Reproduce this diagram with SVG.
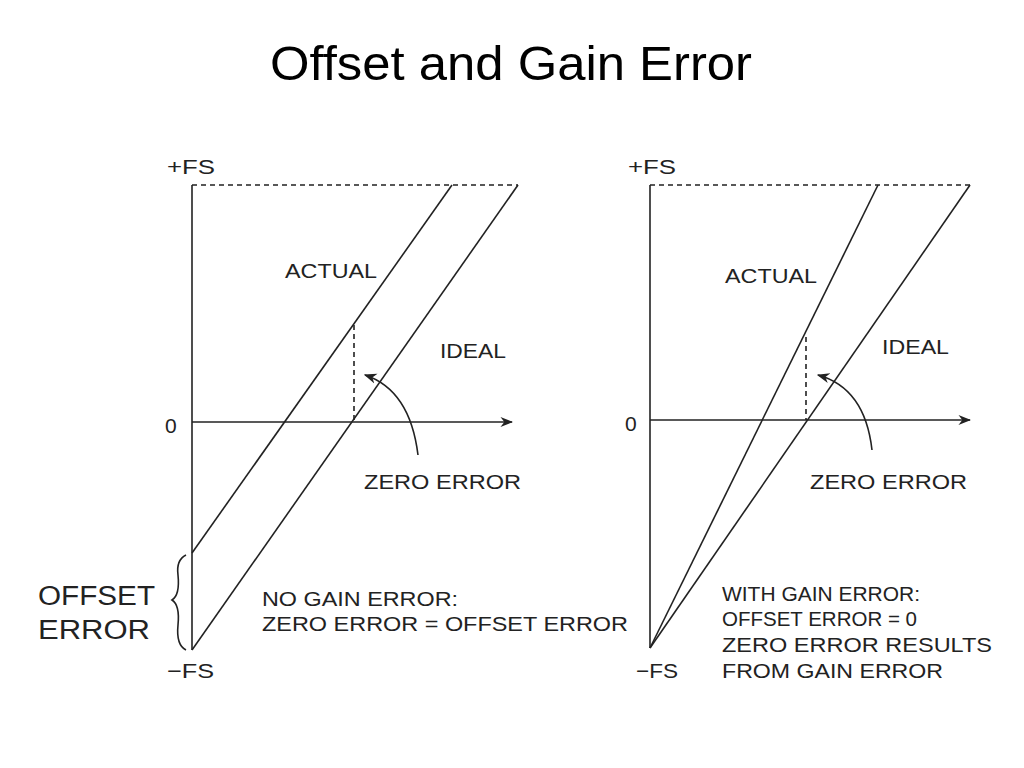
<svg xmlns="http://www.w3.org/2000/svg" width="1024" height="768" viewBox="0 0 1024 768">
<defs>
<style>
.l{stroke:#222;stroke-width:1.6;fill:none}
.d{stroke:#222;stroke-width:1.6;fill:none;stroke-dasharray:5,4}
.t{font-family:"Liberation Sans",Arial,sans-serif;font-size:21px;fill:#222}
</style>
<marker id="a" viewBox="0 0 10 10" refX="9" refY="5" markerWidth="8" markerHeight="8" orient="auto"><path d="M0,1 L10,5 L0,9 L3,5 z" fill="#222"/></marker>
</defs>
<rect width="1024" height="768" fill="#fff"/>
<text x="270" y="80" textLength="482" lengthAdjust="spacingAndGlyphs" font-family="Liberation Sans,Arial,sans-serif" font-size="48" fill="#000">Offset and Gain Error</text>
<g id="connectors">
<path class="l" d="M192,185 V650"/>
<path class="d" d="M192,185 H518"/>
<path class="l" d="M192,422 H512" marker-end="url(#a)"/>
<path class="l" d="M192,650 L518,185"/>
<path class="l" d="M192,553 L452,185"/>
<path class="d" d="M354,325 V422"/>
<path class="l" d="M418,455 Q410,390 365,375" marker-end="url(#a)"/>
<path class="l" d="M186,555 Q176,560 178,575 Q180,595 172,600 Q180,605 178,625 Q176,645 186,650"/>
<path class="l" d="M650,185 V648"/>
<path class="d" d="M650,185 H970"/>
<path class="l" d="M650,420 H970" marker-end="url(#a)"/>
<path class="l" d="M650,648 L970,185"/>
<path class="l" d="M650,648 L878,185"/>
<path class="d" d="M806,337 V420"/>
<path class="l" d="M872,450 Q865,388 818,375" marker-end="url(#a)"/>
</g>
<g id="left">
<text class="t" x="167" y="174" textLength="48" lengthAdjust="spacingAndGlyphs">+FS</text>
<text class="t" x="165" y="433">0</text>
<text class="t" x="167" y="678" textLength="47" lengthAdjust="spacingAndGlyphs">−FS</text>
<text class="t" x="285" y="278" textLength="92" lengthAdjust="spacingAndGlyphs">ACTUAL</text>
<text class="t" x="440" y="358" textLength="66" lengthAdjust="spacingAndGlyphs">IDEAL</text>
<text class="t" x="364" y="489" textLength="157" lengthAdjust="spacingAndGlyphs">ZERO ERROR</text>
<text x="38" y="605" textLength="117" lengthAdjust="spacingAndGlyphs" font-family="Liberation Sans,Arial,sans-serif" font-size="27" fill="#222">OFFSET</text>
<text x="38" y="639" textLength="112" lengthAdjust="spacingAndGlyphs" font-family="Liberation Sans,Arial,sans-serif" font-size="27" fill="#222">ERROR</text>
<text class="t" x="262" y="606" textLength="196" lengthAdjust="spacingAndGlyphs">NO GAIN ERROR:</text>
<text class="t" x="262" y="631" textLength="366" lengthAdjust="spacingAndGlyphs">ZERO ERROR = OFFSET ERROR</text>
</g>
<g id="right">
<text class="t" x="628" y="174" textLength="48" lengthAdjust="spacingAndGlyphs">+FS</text>
<text class="t" x="625" y="431">0</text>
<text class="t" x="636" y="678" textLength="42" lengthAdjust="spacingAndGlyphs">−FS</text>
<text class="t" x="725" y="283" textLength="92" lengthAdjust="spacingAndGlyphs">ACTUAL</text>
<text class="t" x="882" y="354" textLength="67" lengthAdjust="spacingAndGlyphs">IDEAL</text>
<text class="t" x="810" y="489" textLength="157" lengthAdjust="spacingAndGlyphs">ZERO ERROR</text>
<text class="t" x="722" y="601" textLength="198" lengthAdjust="spacingAndGlyphs">WITH GAIN ERROR:</text>
<text class="t" x="722" y="626" textLength="195" lengthAdjust="spacingAndGlyphs">OFFSET ERROR = 0</text>
<text class="t" x="722" y="652" textLength="270" lengthAdjust="spacingAndGlyphs">ZERO ERROR RESULTS</text>
<text class="t" x="722" y="678" textLength="221" lengthAdjust="spacingAndGlyphs">FROM GAIN ERROR</text>
</g>
</svg>
